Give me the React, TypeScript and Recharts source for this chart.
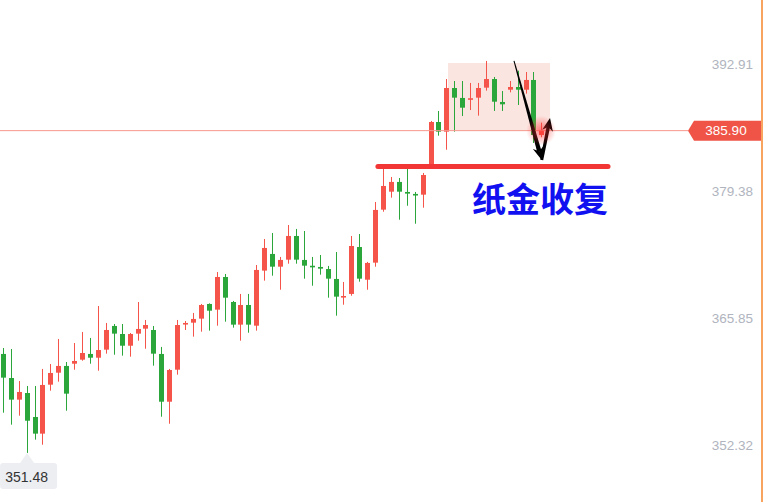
import {
  Bar,
  ComposedChart,
  ReferenceArea,
  ReferenceDot,
  ReferenceLine,
  XAxis,
  YAxis,
} from "recharts";

// OHLC, one entry per candle (left to right)
const OPEN = [
  362.05, 359.48, 357.17, 357.88, 355.32, 353.54, 358.77, 360.05, 360.77, 361.01,
  361.44, 362.05, 361.65, 362.51, 365.04, 364.18, 362.93, 364.22, 364.75, 364.61,
  362.05, 356.95, 360.37, 365.3, 365.39, 365.82, 367.39, 366.78, 370.27, 367.6,
  365.18, 367.28, 365.07, 370.95, 372.73, 371.37, 372.12, 374.65, 372.09, 371.47,
  371.34, 371.12, 370.06, 368.19, 368.46, 373.47, 369.98, 371.8, 377.46, 379.38,
  380.42, 379.35, 379.14, 379.06, 382.23, 386.82, 385.79, 390.45, 389.39, 389.3,
  389.42, 390.49, 391.41, 388.96, 390.27, 390.56, 390.27, 391.31, 385.43,
];
const HIGH = [
  362.69, 362.58, 359.16, 358.63, 358.63, 360.45, 360.98, 363.65, 361.19, 363.22,
  364.4, 363.76, 367.17, 365.36, 365.25, 365.25, 364.29, 367.6, 365.68, 365.04,
  362.8, 360.45, 365.68, 365.57, 366.43, 367.39, 367.45, 370.8, 370.59, 367.71,
  368.46, 368.46, 371.55, 374.33, 374.97, 372.41, 375.82, 375.4, 375.18, 372.41,
  372.62, 371.45, 372.94, 369.74, 374.65, 374.86, 371.88, 378.28, 382.02, 380.95,
  380.84, 381.84, 379.35, 381.38, 386.93, 388.0, 391.41, 391.2, 391.2, 390.99,
  390.99, 393.34, 391.63, 390.13, 391.2, 392.3, 392.16, 392.16, 386.75,
];
const LOW = [
  355.78, 354.5, 355.46, 351.48, 352.9, 352.36, 358.13, 359.09, 355.99, 360.37,
  361.33, 361.01, 360.26, 362.08, 361.97, 361.87, 361.76, 363.47, 362.61, 360.8,
  355.35, 354.6, 359.84, 364.61, 363.9, 364.43, 364.54, 365.07, 365.5, 364.86,
  363.47, 364.32, 364.54, 369.88, 370.41, 368.91, 371.69, 371.69, 370.09, 369.34,
  370.52, 368.06, 366.14, 367.31, 368.27, 369.77, 368.91, 371.37, 377.24, 378.74,
  376.39, 377.88, 375.96, 377.67, 382.1, 385.36, 383.86, 385.79, 387.46, 388.1,
  387.5, 390.17, 388.0, 388.0, 389.99, 388.64, 389.85, 384.58, 385.2,
];
const CLOSE = [
  359.52, 357.17, 357.99, 354.92, 353.54, 358.74, 360.02, 360.77, 357.81, 361.3,
  362.15, 361.65, 362.47, 364.61, 364.22, 362.93, 364.18, 364.72, 365.14, 362.08,
  356.95, 360.34, 365.14, 365.36, 365.79, 367.28, 366.67, 370.27, 368.06, 365.18,
  367.28, 365.18, 371.02, 373.37, 371.37, 372.09, 374.65, 372.12, 371.48, 371.41,
  371.16, 370.09, 368.17, 368.24, 373.58, 370.09, 371.77, 377.43, 379.99, 380.42,
  379.38, 379.17, 379.06, 381.16, 386.82, 385.79, 390.45, 389.42, 388.35, 389.36,
  390.45, 391.41, 388.99, 388.71, 390.56, 390.27, 391.31, 385.43, 385.9,
];

const Y_TICKS = [352.32, 365.85, 379.38, 392.91];
const LAST_PRICE = 385.9;
const LOW_MARK = { idx: 3, price: 351.48 };
const SUPPORT = { y: 382.07, from: 47.3, to: 76.35 };
const BOX = { x1: 56.15, x2: 69.03, y1: 385.9, y2: 393.12 };
const ARROW_DOWN = [{ x: 64.48, y: 393.34 }, { x: 67.98, y: 382.76 }];
const ARROW_UP = [{ x: 67.98, y: 382.76 }, { x: 69.03, y: 387.25 }];
const NOTE = { text: "纸金收复", x: 67.77, y: 378.71 };

const UP = "#f5544a";
const DOWN = "#2aa63b";
const FONT = '"Liberation Sans", Arial, sans-serif';

const rows = OPEN.map((o, i) => ({
  i,
  open: o,
  high: HIGH[i],
  low: LOW[i],
  close: CLOSE[i],
  range: [LOW[i], HIGH[i]],
}));

function Candle(props: any) {
  let { x, y, width, height } = props;
  const d = props.payload;
  if (!d || height == null) return null;
  if (height < 0) {
    y += height;
    height = -height;
  }
  const cx = Math.round(x + width / 2);
  const ppu = height / (d.high - d.low);
  const top = y + (d.high - Math.max(d.open, d.close)) * ppu;
  const bh = Math.max(Math.abs(d.open - d.close) * ppu, 1.6);
  const color = d.close >= d.open ? UP : DOWN;
  return (
    <g>
      <rect x={cx} y={y} width={1} height={height} fill={color} />
      <rect x={cx - 2} y={top} width={5} height={bh} fill={color} />
    </g>
  );
}

function YTick(props: any) {
  const { x, y, payload } = props;
  return (
    <text
      x={x + 65}
      y={y}
      textAnchor="end"
      dominantBaseline="central"
      fill="#b0b4be"
      fontSize={13.5}
      fontFamily={FONT}
    >
      {Number(payload.value).toFixed(2)}
    </text>
  );
}

function PriceTag(props: any) {
  const vb = props.viewBox || {};
  const r = vb.x + vb.width;
  const cy = vb.y;
  return (
    <g>
      <polygon
        points={`${r},${cy} ${r + 6},${cy - 10} ${r + 74},${cy - 10} ${r + 74},${cy + 10} ${r + 6},${cy + 10}`}
        fill="#ef5446"
      />
      <text
        x={r + 38}
        y={cy}
        textAnchor="middle"
        dominantBaseline="central"
        fill="#fff"
        fontSize={13.5}
        fontFamily={FONT}
      >
        {LAST_PRICE.toFixed(2)}
      </text>
    </g>
  );
}

// tapered stroke with an arrow head at the end point
function brushArrow(w0: number, w1: number) {
  return (p: any) => {
    const { x1, y1, x2, y2 } = p;
    const dx = x2 - x1;
    const dy = y2 - y1;
    const len = Math.hypot(dx, dy) || 1;
    const ux = dx / len;
    const uy = dy / len;
    const nx = -uy;
    const ny = ux;
    const hl = 13;
    const hw = 5.5;
    const bx = x2 - ux * hl * 0.7;
    const by = y2 - uy * hl * 0.7;
    const shaft = [
      [x1 + (nx * w0) / 2, y1 + (ny * w0) / 2],
      [bx + (nx * w1) / 2, by + (ny * w1) / 2],
      [bx - (nx * w1) / 2, by - (ny * w1) / 2],
      [x1 - (nx * w0) / 2, y1 - (ny * w0) / 2],
    ];
    const head = [
      [x2, y2],
      [x2 - ux * hl + nx * hw, y2 - uy * hl + ny * hw],
      [bx, by],
      [x2 - ux * hl - nx * hw, y2 - uy * hl - ny * hw],
    ];
    return (
      <g>
        <polygon points={shaft.map((q) => q.join(",")).join(" ")} fill="#000" />
        <polygon points={head.map((q) => q.join(",")).join(" ")} fill="#000" />
      </g>
    );
  };
}

function Glow(props: any) {
  const { cx, cy } = props;
  return (
    <g>
      <defs>
        <radialGradient id="lastGlow">
          <stop offset="0" stopColor="#ff3030" stopOpacity={0.6} />
          <stop offset="1" stopColor="#ff3030" stopOpacity={0} />
        </radialGradient>
      </defs>
      <circle cx={cx} cy={cy} r={15} fill="url(#lastGlow)" />
    </g>
  );
}

function LowTag(props: any) {
  const { cx, cy } = props;
  return (
    <g>
      <polygon points={`${cx},${cy} ${cx - 7},${cy + 10} ${cx + 7},${cy + 10}`} fill="#eceef1" />
      <rect x={cx - 27} y={cy + 10} width={57} height={26} rx={3} fill="#eceef1" />
      <text
        x={cx - 0.5}
        y={cy + 24}
        textAnchor="middle"
        dominantBaseline="central"
        fill="#333"
        fontSize={14}
        fontFamily={FONT}
      >
        {LOW_MARK.price.toFixed(2)}
      </text>
    </g>
  );
}

function Note(props: any) {
  const { cx, cy } = props;
  return (
    <text
      x={cx}
      y={cy}
      textAnchor="middle"
      dominantBaseline="central"
      fill="#1010f0"
      fontSize={34}
      fontWeight={700}
      fontFamily='"Noto Sans CJK SC", sans-serif'
    >
      {NOTE.text}
    </text>
  );
}

export default function App() {
  return (
    <div
      style={{
        position: "absolute",
        left: 0,
        top: 0,
        width: 765,
        height: 502,
        background: "#fff",
        overflow: "hidden",
      }}
    >
      <ComposedChart
        width={765}
        height={502}
        data={rows}
        margin={{ top: 0, right: 0, bottom: 0, left: 0 }}
        style={{ fontFamily: FONT }}
      >
        <XAxis type="number" dataKey="i" domain={[-0.42, 86.45]} allowDataOverflow hide />
        <YAxis
          orientation="right"
          type="number"
          domain={[346.24, 399.85]}
          allowDataOverflow
          ticks={Y_TICKS}
          interval={0}
          width={77}
          axisLine={false}
          tickLine={false}
          tickSize={0}
          tickMargin={0}
          tick={<YTick />}
        />
        <Bar dataKey="range" shape={Candle} barSize={5} isAnimationActive={false} />
        <ReferenceArea
          x1={BOX.x1}
          x2={BOX.x2}
          y1={BOX.y1}
          y2={BOX.y2}
          fill="rgb(240,150,130)"
          fillOpacity={0.25}
          stroke="none"
        />
        <ReferenceLine y={LAST_PRICE} stroke="#f6998f" strokeWidth={1} label={PriceTag} />
        <ReferenceLine
          segment={[
            { x: SUPPORT.from, y: SUPPORT.y },
            { x: SUPPORT.to, y: SUPPORT.y },
          ]}
          stroke="#f23535"
          strokeWidth={5}
          strokeLinecap="round"
        />
        <ReferenceDot x={67.9} y={LAST_PRICE} r={15} shape={Glow} />
        <ReferenceLine segment={ARROW_DOWN} shape={brushArrow(1, 4.5)} />
        <ReferenceLine segment={ARROW_UP} shape={brushArrow(3, 3.5)} />
        <ReferenceDot x={NOTE.x} y={NOTE.y} r={1} shape={Note} />
        <ReferenceDot x={LOW_MARK.idx} y={LOW_MARK.price} r={1} shape={LowTag} />
      </ComposedChart>
      <div
        style={{
          position: "absolute",
          left: 761,
          top: 0,
          width: 2,
          height: 502,
          background: "#f8a35e",
        }}
      />
    </div>
  );
}
